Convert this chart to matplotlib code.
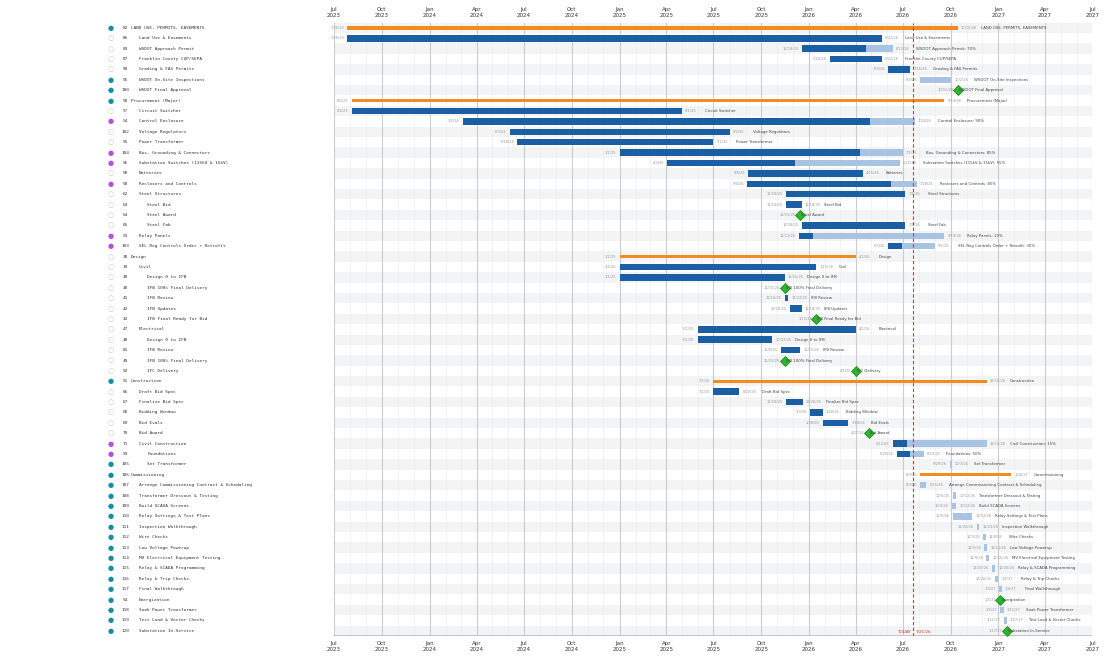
import matplotlib
matplotlib.use("Agg")
from matplotlib import pyplot as plt
import matplotlib.dates as mdates
from datetime import date, timedelta

# task table: id, name, indent level, start, end, percent done, kind, dot colour
ids = [82, 86, 83, 87, 90, 95, 100, 50, 57, 54, 102, 55, 104, 56, 58, 58, 62, 63, 64, 65, 53, 103,
       38, 39, 40, 40, 41, 42, 43, 47, 48, 81, 49, 92, 51, 66, 67, 68, 69, 70, 71, 93, 105,
       106, 107, 108, 109, 110, 111, 112, 113, 114, 115, 116, 117, 94, 118, 119, 120]
names = ["LAND USE, PERMITS, EASEMENTS", "Land Use & Easements", "WSDOT Approach Permit",
         "Franklin County CUP/SEPA", "Grading & FAS Permits", "WSDOT On-Site Inspections",
         "WSDOT Final Approval", "Procurement (Major)", "Circuit Switcher", "Control Enclosure",
         "Voltage Regulators", "Power Transformer", "Bus, Grounding & Connectors",
         "Substation Switches (115kV & 15kV)", "Batteries", "Reclosers and Controls",
         "Steel Structures", "Steel Bid", "Steel Award", "Steel Fab", "Relay Panels",
         "SEL Reg Controls Order + Retrofit", "Design", "Civil", "Design 0 to IFB",
         "IFB 100% Final Delivery", "IFB Review", "IFB Updates", "IFB Final Ready for Bid",
         "Electrical", "Design 0 to IFB", "IFB Review", "IFB 100% Final Delivery", "IFC Delivery",
         "Construction", "Draft Bid Spec", "Finalize Bid Spec", "Bidding Window", "Bid Evals",
         "Bid Award", "Civil Construction", "Foundations", "Set Transformer", "Commissioning",
         "Arrange Commissioning Contract & Scheduling", "Transformer Dressout & Testing",
         "Build SCADA Screens", "Relay Settings & Test Plans", "Inspection Walkthrough",
         "Wire Checks", "Low Voltage Powerup", "MV Electrical Equipment Testing",
         "Relay & SCADA Programming", "Relay & Trip Checks", "Final Walkthrough", "Energization",
         "Soak Power Transformer", "Test Load & Vector Checks", "Substation In-Service"]
levels = [0, 1, 1, 1, 1, 1, 1, 0, 1, 1, 1, 1, 1, 1, 1, 1, 1, 2, 2, 2, 1, 1,
          0, 1, 2, 2, 2, 2, 2, 1, 2, 2, 2, 2, 0, 1, 1, 1, 1, 1, 1, 2, 2,
          0, 1, 1, 1, 1, 1, 1, 1, 1, 1, 1, 1, 1, 1, 1, 1]
starts = ["2023-07-26", "2023-07-26", "2025-12-18", "2026-02-10", "2026-06-03", "2026-08-03",
          "2026-10-15", "2023-08-04", "2023-08-04", "2024-03-05", "2024-06-03", "2024-06-18",
          "2025-01-01", "2025-04-03", "2025-09-06", "2025-09-04", "2025-11-18", "2025-11-18",
          "2025-12-15", "2025-12-18", "2025-12-12", "2026-06-03",
          "2025-01-01", "2025-01-01", "2025-01-01", "2025-11-15", "2025-11-16", "2025-11-25",
          "2026-01-15", "2025-06-01", "2025-06-01", "2025-11-08", "2025-11-15", "2026-04-01",
          "2025-07-01", "2025-07-01", "2025-11-18", "2026-01-03", "2026-01-28", "2026-04-27",
          "2026-06-12", "2026-06-20", "2026-09-29",
          "2026-08-03", "2026-08-03", "2026-10-05", "2026-10-03", "2026-10-05", "2026-11-20",
          "2026-12-03", "2026-12-05", "2026-12-09", "2026-12-20", "2026-12-26", "2027-01-03",
          "2027-01-05", "2027-01-05", "2027-01-11", "2027-01-17"]
ends = ["2026-10-15", "2026-05-22", "2026-06-12", "2026-05-22", "2026-07-15", "2026-10-02",
        None, "2026-09-19", "2025-05-01", "2026-07-24", "2025-08-02", "2025-07-01",
        "2026-07-01", "2026-06-25", "2026-04-15", "2026-07-28", "2026-07-06", "2025-12-18",
        None, "2026-07-06", "2026-09-19", "2026-09-01",
        "2026-04-01", "2026-01-15", "2025-11-15", None, "2025-11-22", "2025-12-18",
        None, "2026-04-01", "2025-10-22", "2025-12-15", None, None,
        "2026-12-10", "2025-08-20", "2025-12-20", "2026-01-28", "2026-03-18", None,
        "2026-12-10", "2026-08-10", "2026-10-03",
        "2027-01-26", "2026-08-15", "2026-10-12", "2026-10-12", "2026-11-12", "2026-11-25",
        "2026-12-08", "2026-12-11", "2026-12-15", "2026-12-26", "2027-01-01", "2027-01-08",
        None, "2027-01-11", "2027-01-17", None]
pct = [100, 100, 70, 100, 100, 0, 0, 100, 100, 90, 100, 100, 85, 55, 100, 85, 100, 100, 0, 100, 10, 30,
       100, 100, 100, 0, 100, 100, 0, 100, 100, 100, 0, 0, 100, 100, 100, 100, 100, 0, 15, 50, 0,
       0, 0, 0, 0, 0, 0, 0, 0, 0, 0, 0, 0, 0, 0, 0, 0]
summary_rows = [0, 7, 22, 34, 43]
teal_rows = [0, 5, 6, 7, 34] + list(range(42, 59))
purple_rows = [9, 12, 13, 15, 20, 21, 40, 41]
today = "2026-07-21"

ORANGE = "#f28c1f"
DARK = "#1a5fa3"
LIGHT = "#a9c4e2"
GREEN = "#2db52d"

def d(s):
    return mdates.date2num(date.fromisoformat(s))

def short(s):
    t = date.fromisoformat(s)
    return f"{t.month}/{t.day}/{t.year % 100}"

fig = plt.figure(figsize=(11.1, 6.68), dpi=100)
ax = fig.add_axes([0.301, 0.048, 0.683, 0.918])
n = len(names)
ax.set_ylim(n - 0.5, -0.5)
ax.set_xlim(d("2023-07-01"), d("2027-07-01"))

for i in range(n):
    if i % 2 == 0:
        ax.axhspan(i - 0.5, i + 0.5, color="#f3f4f6", zorder=0, lw=0)

for i in range(n):
    s = d(starts[i])
    lab = names[i]
    if ends[i] is None:
        ax.plot(s, i, marker="D", ms=5.5, color=GREEN, mec="#1e8f1e", mew=0.6, zorder=5)
        ax.text(s - 8, i, short(starts[i]), fontsize=2.6, color="#999999", ha="right", va="center")
        ax.text(s + 2, i, lab, fontsize=2.8, color="#444444", ha="left", va="center", zorder=6)
        continue
    e = d(ends[i])
    if i in summary_rows:
        ax.barh(i, e - s, left=s, height=0.32, color=ORANGE, zorder=3)
    else:
        ax.barh(i, e - s, left=s, height=0.62, color=LIGHT, zorder=3)
        if pct[i] > 0:
            ax.barh(i, (e - s) * pct[i] / 100, left=s, height=0.62, color=DARK, zorder=4)
        if 0 < pct[i] < 100:
            lab = f"{lab}: {pct[i]}%"
    ax.text(s - 6, i, short(starts[i]), fontsize=2.6, color="#999999", ha="right", va="center")
    ax.text(e + 6, i, short(ends[i]), fontsize=2.6, color="#999999", ha="left", va="center")
    ax.text(e + 44, i, lab, fontsize=2.8, color="#444444", ha="left", va="center")

t = d(today)
ax.axvline(t, color="#e03030", ls=(0, (3, 2)), lw=0.8, zorder=6)
ax.text(t - 4, n - 0.7, "TODAY", fontsize=3, color="#e03030", ha="right", va="bottom")
ax.text(t + 4, n - 0.7, short(today), fontsize=3, color="#e03030", ha="left", va="bottom")

ax.xaxis.set_major_locator(mdates.MonthLocator(bymonth=[1, 4, 7, 10]))
ax.xaxis.set_major_formatter(mdates.DateFormatter("%b\n%Y"))
ax.xaxis.set_minor_locator(mdates.MonthLocator())
ax.tick_params(axis="x", which="both", labeltop=True, top=True, labelsize=4, length=0, colors="#333333")
ax.grid(axis="x", which="major", color="#cccccc", lw=0.8, zorder=1)
ax.grid(axis="x", which="minor", color="#ebebeb", lw=0.4, zorder=1)
ax.set_axisbelow(True)
ax.set_yticks([])
for sp in ax.spines.values():
    sp.set_visible(False)
ax.axhline(n - 0.5, color="#bbbbbb", lw=1.2)

# left hand task list
for i in range(n):
    y = 0.966 - (i + 0.5) / n * 0.918
    if i in teal_rows:
        fig.text(111 / 1110, y, "●", fontsize=5, color="#178ca6", ha="center", va="center")
    elif i in purple_rows:
        fig.text(111 / 1110, y, "●", fontsize=5, color="#b64fe0", ha="center", va="center")
    else:
        fig.text(111 / 1110, y, "○", fontsize=5, color="#c8c8c8", ha="center", va="center")
    fig.text(125 / 1110, y, str(ids[i]), fontsize=3.2, family="DejaVu Sans Mono",
             color="#333333", ha="center", va="center")
    fig.text((131 + 8 * levels[i]) / 1110, y, names[i], fontsize=3.2, family="DejaVu Sans Mono",
             color="#333333", ha="left", va="center")

fig.savefig("out.png", dpi=100)
